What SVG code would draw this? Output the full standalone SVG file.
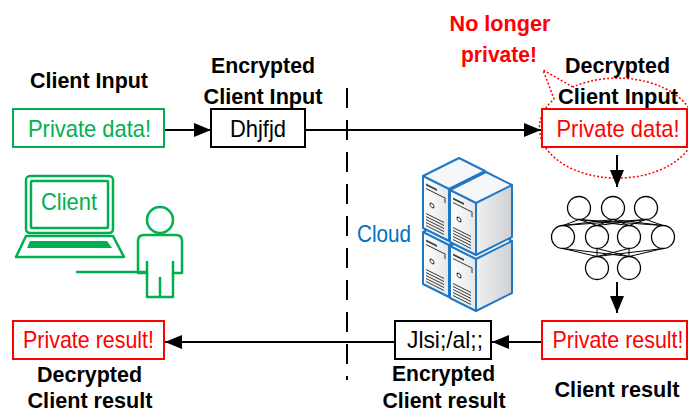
<svg xmlns="http://www.w3.org/2000/svg" width="688" height="417" viewBox="0 0 688 417">
  <defs>
    <style>
      text { font-family: "Liberation Sans", Arial, sans-serif; text-anchor: middle; }
      .lbl { font-size: 22px; font-weight: bold; fill: #000; }
      .warn { font-size: 22px; font-weight: bold; fill: #ff0000; }
      .txt { font-size: 24px; }
      .green { fill: #00b050; }
      .red { fill: #ff0000; }
      .black { fill: #000; }
      .box { fill: #fff; stroke-width: 2; }
      .arrow { stroke: #000; stroke-width: 2; fill: none; marker-end: url(#head); }
      .icon { fill: none; stroke: #00b050; stroke-width: 2.5; stroke-linejoin: round; stroke-linecap: round; }
      .nn-edge { stroke: #000; stroke-width: 1; }
      .nn-node { fill: #fff; stroke: #000; stroke-width: 1.3; }
      .srv-line { stroke: #1f77c4; stroke-width: 2; stroke-linejoin: round; fill: none; }
      .srv-detail { stroke: #333; stroke-width: 1; fill: none; }
    </style>
    <marker id="head" markerUnits="userSpaceOnUse" markerWidth="17" markerHeight="14" refX="17" refY="7" orient="auto">
      <path d="M0,0 L17,7 L0,14 Z" fill="#000"/>
    </marker>
    <linearGradient id="faceL" x1="0" y1="0" x2="1" y2="0">
      <stop offset="0" stop-color="#ffffff"/>
      <stop offset="1" stop-color="#e4e6e8"/>
    </linearGradient>
    <linearGradient id="faceR" x1="0" y1="0" x2="1" y2="0">
      <stop offset="0" stop-color="#f0f0f0"/>
      <stop offset="1" stop-color="#cdd0d3"/>
    </linearGradient>
    <!-- one isometric server unit, origin at the left corner of its top face -->
    <g id="srv">
      <polygon points="26,13 62,-5 62,47 26,65" fill="url(#faceR)"/>
      <polygon points="0,0 26,13 26,65 0,52" fill="url(#faceL)"/>
      <polygon points="0,0 36,-18 62,-5 26,13" fill="#f6f7f9"/>
      <g transform="matrix(1,0.5,0,1,0,0)">
        <rect x="3" y="6" width="11" height="2" fill="#444"/>
        <polyline class="srv-detail" points="3,11 22,11 22,16"/>
        <circle class="srv-detail" cx="9" cy="25" r="2"/>
        <path class="srv-detail" d="M3,36 H21 M3,39 H21 M3,42 H21 M3,45 H21 M3,48 H21"/>
      </g>
      <path class="srv-line" d="M0,0 L36,-18 L62,-5 L62,47 L26,65 L0,52 Z M0,0 L26,13 L62,-5 M26,13 L26,65"/>
    </g>
  </defs>

  <rect width="688" height="417" fill="#fff"/>

  <!-- trust boundary between client and cloud -->
  <line x1="347" y1="88" x2="347" y2="380" stroke="#000" stroke-width="2" stroke-dasharray="20 12"/>

  <!-- leakage callout around the decrypted input -->
  <g id="leak-callout">
    <path d="M573,87 L543,70 L554,99 A78,50 0 1 0 573,87" fill="none" stroke="#ff0000" stroke-width="1.5" stroke-dasharray="2 2"/>
    <text class="warn" x="500" y="31" textLength="101" lengthAdjust="spacingAndGlyphs">No longer</text>
    <text class="warn" x="499" y="62" textLength="76" lengthAdjust="spacingAndGlyphs">private!</text>
  </g>

  <g id="connectors">
    <line class="arrow" x1="164" y1="130" x2="211" y2="130"/>
    <line class="arrow" x1="305" y1="130" x2="541" y2="130"/>
    <line class="arrow" x1="617" y1="155" x2="617" y2="187"/>
    <line class="arrow" x1="617" y1="282" x2="617" y2="313"/>
    <line class="arrow" x1="542" y1="342" x2="492" y2="342"/>
    <line class="arrow" x1="395" y1="342" x2="165" y2="342"/>
  </g>

  <g id="client-input">
    <text class="lbl" x="89" y="88" textLength="118" lengthAdjust="spacingAndGlyphs">Client Input</text>
    <rect class="box" x="13" y="109" width="151" height="38" stroke="#00b050"/>
    <text class="txt green" x="89.5" y="137" textLength="123" lengthAdjust="spacingAndGlyphs">Private data!</text>
  </g>

  <g id="encrypted-input">
    <text class="lbl" x="263" y="73" textLength="104" lengthAdjust="spacingAndGlyphs">Encrypted</text>
    <text class="lbl" x="263" y="104" textLength="119" lengthAdjust="spacingAndGlyphs">Client Input</text>
    <rect class="box" x="211" y="109" width="94" height="38" stroke="#000"/>
    <text class="txt black" x="258" y="137" textLength="56" lengthAdjust="spacingAndGlyphs">Dhjfjd</text>
  </g>

  <g id="decrypted-input">
    <text class="lbl" x="617.5" y="73" textLength="105" lengthAdjust="spacingAndGlyphs">Decrypted</text>
    <text class="lbl" x="618" y="104" textLength="120" lengthAdjust="spacingAndGlyphs">Client Input</text>
    <rect class="box" x="542" y="109" width="145" height="38" stroke="#ff0000"/>
    <text class="txt red" x="618" y="137" textLength="123" lengthAdjust="spacingAndGlyphs">Private data!</text>
  </g>

  <g id="client">
    <rect class="icon" x="26" y="176" width="87" height="57" rx="4"/>
    <rect class="icon" x="31" y="181" width="77" height="47" rx="1"/>
    <text class="txt green" x="69" y="210" textLength="56" lengthAdjust="spacingAndGlyphs">Client</text>
    <path class="icon" d="M26,236 L113,236 L124,257 L16,257 Z"/>
    <path d="M30,241 L107,241 L112,248 L27,248 Z" fill="#00b050"/>
    <line class="icon" x1="77" y1="272" x2="147" y2="272"/>
    <circle class="icon" cx="160" cy="220" r="13"/>
    <path class="icon" d="M147,273 L138,273 L138,241 Q138,235 144,235 L176,235 Q182,235 182,241 L182,273 L173,273 L173,297 L147,297 Z"/>
    <path class="icon" d="M147,262 L147,273 M173,262 L173,273 M160,278 L160,297"/>
  </g>

  <g id="cloud">
    <text class="txt" x="384" y="242" fill="#0070c0" textLength="54" lengthAdjust="spacingAndGlyphs">Cloud</text>
    <use href="#srv" x="423" y="232"/>
    <use href="#srv" x="423" y="176"/>
    <use href="#srv" x="450" y="246"/>
    <use href="#srv" x="450" y="190"/>
  </g>

  <g id="model">
    <path class="nn-edge" d="
      M579,219.5 L563,225.5 M579,219.5 L597,225.5 M579,219.5 L629,225.5 M579,219.5 L663,225.5
      M613,219.5 L563,225.5 M613,219.5 L597,225.5 M613,219.5 L629,225.5 M613,219.5 L663,225.5
      M646,219.5 L563,225.5 M646,219.5 L597,225.5 M646,219.5 L629,225.5 M646,219.5 L663,225.5
      M563,248.5 L597,256.5 M563,248.5 L629,256.5 M597,248.5 L597,256.5 M597,248.5 L629,256.5
      M629,248.5 L597,256.5 M629,248.5 L629,256.5 M663,248.5 L597,256.5 M663,248.5 L629,256.5"/>
    <circle class="nn-node" cx="579" cy="208" r="11.5"/>
    <circle class="nn-node" cx="613" cy="208" r="11.5"/>
    <circle class="nn-node" cx="646" cy="208" r="11.5"/>
    <circle class="nn-node" cx="563" cy="237" r="11.5"/>
    <circle class="nn-node" cx="597" cy="237" r="11.5"/>
    <circle class="nn-node" cx="629" cy="237" r="11.5"/>
    <circle class="nn-node" cx="663" cy="237" r="11.5"/>
    <circle class="nn-node" cx="597" cy="268" r="11.5"/>
    <circle class="nn-node" cx="629" cy="268" r="11.5"/>
  </g>

  <g id="client-result">
    <rect class="box" x="542" y="321" width="145" height="38" stroke="#ff0000"/>
    <text class="txt red" x="618" y="348" textLength="131" lengthAdjust="spacingAndGlyphs">Private result!</text>
    <text class="lbl" x="617" y="397" textLength="125" lengthAdjust="spacingAndGlyphs">Client result</text>
  </g>

  <g id="encrypted-result">
    <rect class="box" x="395" y="321" width="96" height="38" stroke="#000"/>
    <text class="txt black" x="445" y="348" textLength="76" lengthAdjust="spacingAndGlyphs">Jlsi;/al;;</text>
    <text class="lbl" x="443.5" y="381" textLength="103" lengthAdjust="spacingAndGlyphs">Encrypted</text>
    <text class="lbl" x="444" y="408" textLength="123" lengthAdjust="spacingAndGlyphs">Client result</text>
  </g>

  <g id="decrypted-result">
    <rect class="box" x="13" y="321" width="151" height="38" stroke="#ff0000"/>
    <text class="txt red" x="88.5" y="348" textLength="131" lengthAdjust="spacingAndGlyphs">Private result!</text>
    <text class="lbl" x="89.5" y="382" textLength="105" lengthAdjust="spacingAndGlyphs">Decrypted</text>
    <text class="lbl" x="90" y="408" textLength="125" lengthAdjust="spacingAndGlyphs">Client result</text>
  </g>
</svg>
